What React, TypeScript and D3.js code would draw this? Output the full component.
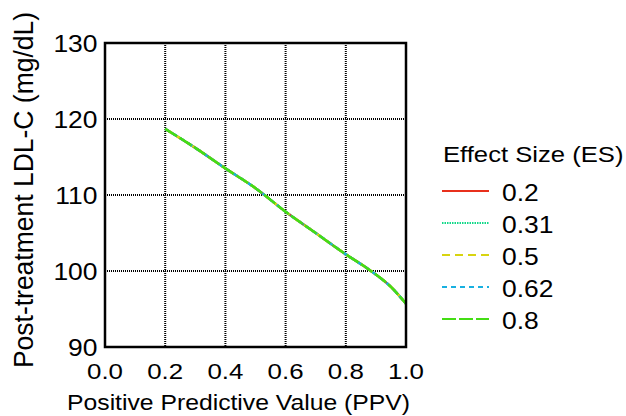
import React, { useEffect, useRef } from 'react';
import * as d3 from 'd3';

// values; all five ES curves lie on top of each other
const ppv = [0.2, 0.3, 0.4, 0.5, 0.6, 0.7, 0.8, 0.88, 0.95, 1.0];
const es02 = [118.7, 116.2, 113.5, 110.9, 107.8, 105.0, 102.2, 100.1, 97.9, 95.7];
const es031 = [118.7, 116.2, 113.5, 110.9, 107.8, 105.0, 102.2, 100.1, 97.9, 95.7];
const es05 = [118.7, 116.2, 113.5, 110.9, 107.8, 105.0, 102.2, 100.1, 97.9, 95.7];
const es062 = [118.7, 116.2, 113.5, 110.9, 107.8, 105.0, 102.2, 100.1, 97.9, 95.7];
const es08 = [118.7, 116.2, 113.5, 110.9, 107.8, 105.0, 102.2, 100.1, 97.9, 95.7];

const seriesNames = ['0.2', '0.31', '0.5', '0.62', '0.8'];
const xTicks = [0, 0.2, 0.4, 0.6, 0.8, 1.0];
const yTicks = [90, 100, 110, 120, 130];

const FONT = '"Liberation Sans", Arial, sans-serif';
const SX = 1.15; // the original text is a little wide

export default function App() {
  const ref = useRef<SVGSVGElement>(null);

  useEffect(() => {
    const svg = d3.select(ref.current);
    svg.selectAll('*').remove();

    const left = 105, right = 406, top = 43, bottom = 347;
    const x = d3.scaleLinear().domain([0, 1]).range([left, right]);
    const y = d3.scaleLinear().domain([90, 130]).range([bottom, top]);

    // grid
    const grid = svg.append('g');
    grid.selectAll('.gx')
      .data(xTicks.filter((d) => d > 0 && d < 1))
      .enter()
      .append('line')
      .attr('x1', (d) => x(d)).attr('x2', (d) => x(d))
      .attr('y1', top).attr('y2', bottom)
      .attr('stroke', '#000').attr('stroke-width', 2)
      .attr('stroke-dasharray', '1,1');
    grid.selectAll('.gy')
      .data(yTicks.filter((d) => d > 90 && d < 130))
      .enter()
      .append('line')
      .attr('x1', left).attr('x2', right)
      .attr('y1', (d) => y(d)).attr('y2', (d) => y(d))
      .attr('stroke', '#000').attr('stroke-width', 2)
      .attr('stroke-dasharray', '1,1');

    // curves
    const series = [
      { name: seriesNames[0], values: es02, color: '#e8301c', dash: null },
      { name: seriesNames[1], values: es031, color: '#10d888', dash: '1.5,1' },
      { name: seriesNames[2], values: es05, color: '#d8d410', dash: '8,5' },
      { name: seriesNames[3], values: es062, color: '#18b0e0', dash: '5,4' },
      { name: seriesNames[4], values: es08, color: '#44dd14', dash: '14,3' },
    ];
    const line = d3.line<number>()
      .x((d, i) => x(ppv[i]))
      .y((d) => y(d))
      .curve(d3.curveMonotoneX);
    series.forEach((s) => {
      svg.append('path')
        .attr('d', line(s.values))
        .attr('fill', 'none')
        .attr('stroke', s.color)
        .attr('stroke-width', 2.5)
        .attr('stroke-dasharray', s.dash);
    });

    // frame
    svg.append('rect')
      .attr('x', left).attr('y', top)
      .attr('width', right - left).attr('height', bottom - top)
      .attr('fill', 'none').attr('stroke', '#000').attr('stroke-width', 2.5);

    // tick labels
    svg.selectAll('.xt')
      .data(xTicks)
      .enter()
      .append('text')
      .attr('transform', (d) => `translate(${x(d)}, ${bottom + 32}) scale(${SX}, 1)`)
      .attr('text-anchor', 'middle')
      .attr('font-family', FONT).attr('font-size', 22.5)
      .text((d) => d3.format('.1f')(d));
    svg.selectAll('.yt')
      .data(yTicks)
      .enter()
      .append('text')
      .attr('transform', (d) => `translate(${left - 7.5}, ${y(d) + 9}) scale(${SX}, 1)`)
      .attr('text-anchor', 'end')
      .attr('font-family', FONT).attr('font-size', 23)
      .text((d) => d);

    // axis titles
    svg.append('text')
      .attr('transform', `translate(238.5, 410) scale(${SX}, 1)`)
      .attr('text-anchor', 'middle')
      .attr('font-family', FONT).attr('font-size', 21.5)
      .text('Positive Predictive Value (PPV)');
    svg.append('text')
      .attr('transform', `translate(33, 190) rotate(-90) scale(1, ${SX * 0.92})`)
      .attr('text-anchor', 'middle')
      .attr('font-family', FONT).attr('font-size', 26.5)
      .text('Post-treatment LDL-C (mg/dL)');

    // legend
    svg.append('text')
      .attr('transform', `translate(443, 162) scale(${SX}, 1)`)
      .attr('font-family', FONT).attr('font-size', 22.3)
      .text('Effect Size (ES)');
    const lg = svg.selectAll('.lg')
      .data(series)
      .enter()
      .append('g')
      .attr('transform', (d, i) => `translate(442, ${191 + i * 32})`);
    lg.append('line')
      .attr('x1', 0).attr('x2', 47)
      .attr('stroke', (d) => d.color)
      .attr('stroke-width', 2)
      .attr('stroke-dasharray', (d) => d.dash);
    lg.append('text')
      .attr('transform', `translate(60, 10) scale(${SX}, 1)`)
      .attr('font-family', FONT).attr('font-size', 23)
      .text((d) => d.name);
  }, []);

  return (
    <svg ref={ref} width={626} height={416}
      style={{ position: 'absolute', left: 0, top: 0, background: '#fff' }} />
  );
}
